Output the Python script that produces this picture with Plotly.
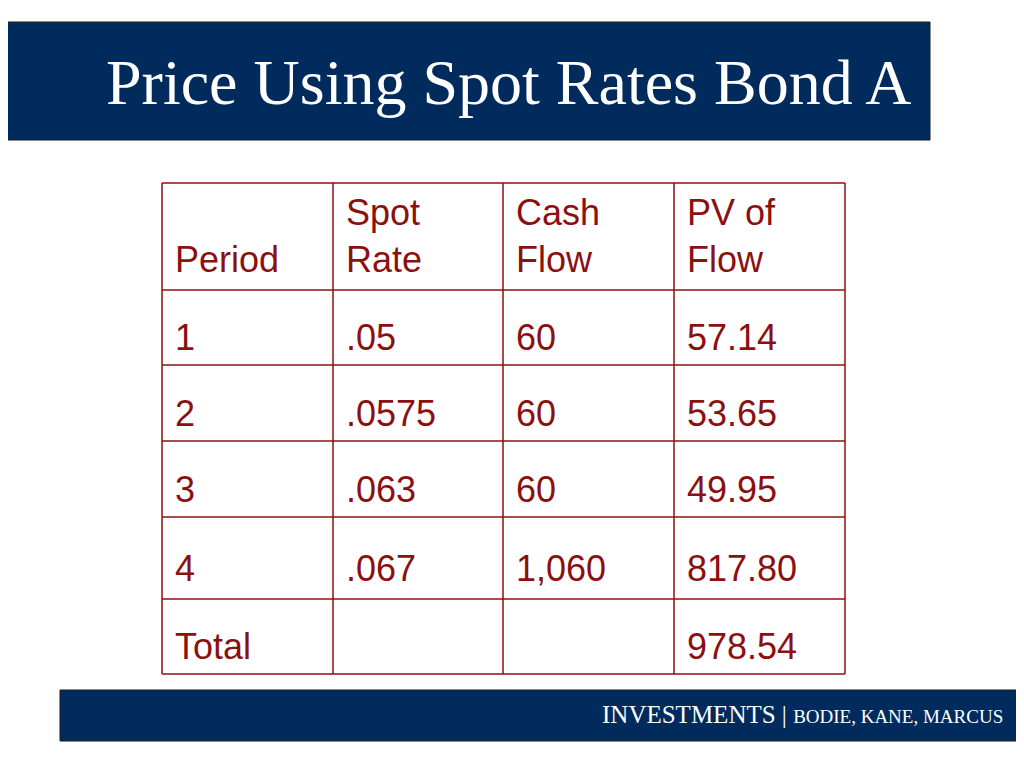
import plotly.graph_objects as go

# table data
header = ["Period", "Spot<br>Rate", "Cash<br>Flow", "PV of<br>Flow"]
periods = ["1", "2", "3", "4", "Total"]
spot_rates = [".05", ".0575", ".063", ".067", ""]
cash_flows = ["60", "60", "60", "1,060", ""]
pv_flows = ["57.14", "53.65", "49.95", "817.80", "978.54"]

title = "Price Using Spot Rates Bond A"

NAVY = "#002B5C"
RED = "#8B1010"
OFF = 8  # page margin offset in the browser

col_edges = [162, 333, 503, 674, 845]
row_edges = [183, 290, 365, 441, 517, 599, 674]
col_edges = [x - OFF for x in col_edges]
row_edges = [y - OFF for y in row_edges]

fig = go.Figure()
shapes = []

# title bar and footer bar
shapes.append(dict(type="rect", x0=-OFF, x1=930 - OFF, y0=22 - OFF, y1=140 - OFF, fillcolor=NAVY,
                   line=dict(color="#1a1a1a", width=1), layer="below"))
shapes.append(dict(type="rect", x0=60 - OFF, x1=1024, y0=690 - OFF, y1=741 - OFF, fillcolor=NAVY,
                   line=dict(color="#1a1a1a", width=1), layer="below"))

# cell borders
for y in row_edges:
    shapes.append(dict(type="line", x0=col_edges[0], x1=col_edges[-1], y0=y, y1=y,
                       line=dict(color=RED, width=1.5)))
for x in col_edges:
    shapes.append(dict(type="line", x0=x, x1=x, y0=row_edges[0], y1=row_edges[-1],
                       line=dict(color=RED, width=1.5)))

annotations = [dict(x=104 - OFF, y=82 - OFF, text=title, showarrow=False, xanchor="left",
                    yanchor="middle", font=dict(family="Liberation Serif", size=64, color="white"))]

font = dict(family="Liberation Sans", size=36, color=RED)
for i, h in enumerate(header):
    annotations.append(dict(x=col_edges[i] + 11, y=row_edges[1] - 8, text=h, showarrow=False,
                            xanchor="left", yanchor="bottom", align="left", font=font))

columns = [periods, spot_rates, cash_flows, pv_flows]
for r in range(len(periods)):
    top, bot = row_edges[r + 1], row_edges[r + 2]
    for c, col in enumerate(columns):
        if col[r]:
            annotations.append(dict(x=col_edges[c] + 11, y=(top + bot) / 2 + 10, text=col[r],
                                    showarrow=False, xanchor="left", yanchor="middle", font=font))

annotations.append(dict(x=1005 - OFF, y=714 - OFF, showarrow=False, xanchor="right", yanchor="middle",
                        text="INVESTMENTS | <span style='font-size:19px'>BODIE, KANE, MARCUS</span>",
                        font=dict(family="Liberation Serif", size=25, color="white")))

fig.update_layout(
    width=1024, height=768, margin=dict(l=0, r=0, t=0, b=0),
    paper_bgcolor="white", plot_bgcolor="white", showlegend=False,
    shapes=shapes, annotations=annotations,
    xaxis=dict(range=[0, 1024], visible=False, fixedrange=True),
    yaxis=dict(range=[768, 0], visible=False, fixedrange=True),
)
fig.write_html("out.html")
